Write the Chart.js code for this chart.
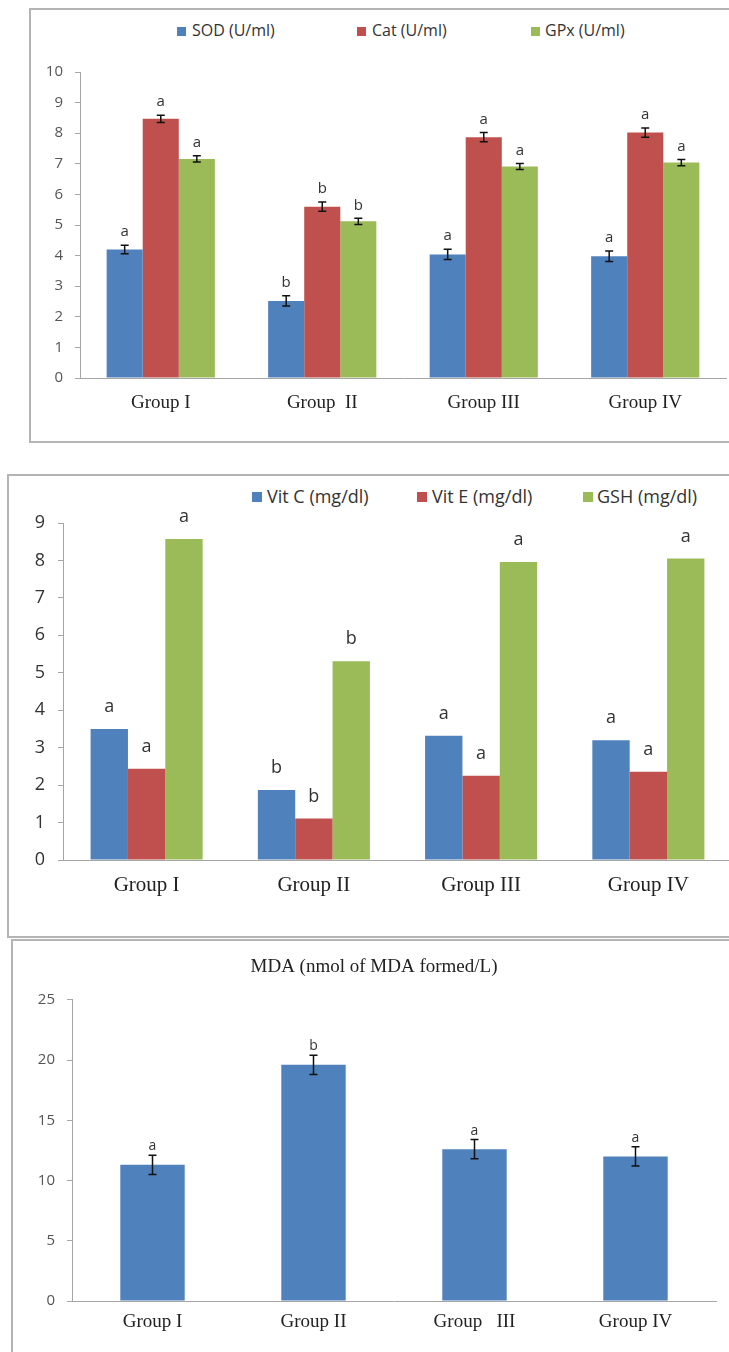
<!DOCTYPE html>
<html>
<head>
<meta charset="utf-8">
<script src="https://cdn.jsdelivr.net/npm/chart.js@4/dist/chart.umd.min.js"></script>
<style>
  html, body { margin: 0; padding: 0; width: 729px; height: 1352px; overflow: hidden; background: #fff; }
  .frame { position: absolute; box-sizing: border-box; border: 2px solid #B4B4B4; }
  canvas { position: absolute; }
  .legend { position: absolute; font-family: "Open Sans", sans-serif; color: #333; white-space: nowrap; }
  .legend span.box { position: absolute; }
  .legend span.txt { position: absolute; }
</style>
</head>
<body>
<div class="frame" style="left:29px; top:8px; width:740px; height:435px;"></div>
<div class="frame" style="left:7px; top:474px; width:760px; height:464px;"></div>
<div class="frame" style="left:11px; top:939px; width:760px; height:440px;"></div>

<div id="legend1"></div>
<div id="legend2"></div>

<canvas id="c1" width="700" height="435" style="left:29px; top:8px; width:700px; height:435px;"></canvas>
<canvas id="c2" width="728" height="461" style="left:7px; top:474px; width:728px; height:461px;"></canvas>
<canvas id="c3" width="720" height="413" style="left:9px; top:939px; width:720px; height:413px;"></canvas>

<script>
// ---------- Data ----------
const groupsA = ['Group I', 'Group  II', 'Group III', 'Group IV'];
const groupsB = ['Group I', 'Group II', 'Group III', 'Group IV'];
const groupsC = ['Group I', 'Group II', 'Group   III', 'Group IV'];

// Panel 1: enzymes (U/ml)
const sodValues = [4.20, 2.52, 4.04, 3.98];
const sodErrors = [0.14, 0.17, 0.17, 0.17];
const sodSig = ['a', 'b', 'a', 'a'];
const catValues = [8.47, 5.60, 7.87, 8.02];
const catErrors = [0.12, 0.15, 0.15, 0.15];
const catSig = ['a', 'b', 'a', 'a'];
const gpxValues = [7.16, 5.12, 6.91, 7.04];
const gpxErrors = [0.10, 0.10, 0.10, 0.10];
const gpxSig = ['a', 'b', 'a', 'a'];

// Panel 2: non-enzymatic antioxidants (mg/dl)
const vitCValues = [3.50, 1.87, 3.32, 3.20];
const vitCSig = ['a', 'b', 'a', 'a'];
const vitEValues = [2.44, 1.11, 2.25, 2.36];
const vitESig = ['a', 'b', 'a', 'a'];
const gshValues = [8.57, 5.31, 7.96, 8.05];
const gshSig = ['a', 'b', 'a', 'a'];

// Panel 3: MDA
const mdaValues = [11.3, 19.6, 12.6, 12.0];
const mdaErrors = [0.8, 0.8, 0.8, 0.8];
const mdaSig = ['a', 'b', 'a', 'a'];

const BLUE = '#4F81BD', RED = '#C0504D', GREEN = '#9BBB59';

// ---------- HTML legends ----------
function makeLegend(id, items, top, fontSize, boxSize) {
  const el = document.getElementById(id);
  items.forEach(it => {
    const b = document.createElement('span');
    b.className = 'legend';
    b.style.left = it.boxX + 'px';
    b.style.top = (top - boxSize / 2) + 'px';
    b.style.width = boxSize + 'px';
    b.style.height = boxSize + 'px';
    b.style.background = it.color;
    el.appendChild(b);
    const t = document.createElement('span');
    t.className = 'legend';
    t.textContent = it.text;
    t.style.left = it.textX + 'px';
    t.style.fontSize = fontSize + 'px';
    t.style.lineHeight = fontSize + 'px';
    t.style.top = (top - fontSize / 2 - 1) + 'px';
    el.appendChild(t);
  });
}
makeLegend('legend1', [
  {text: 'SOD (U/ml)', color: BLUE, boxX: 177, textX: 192},
  {text: 'Cat (U/ml)', color: RED, boxX: 357, textX: 372},
  {text: 'GPx (U/ml)', color: GREEN, boxX: 531, textX: 545}
], 31, 16, 9);
makeLegend('legend2', [
  {text: 'Vit C (mg/dl)', color: BLUE, boxX: 252, textX: 267},
  {text: 'Vit E (mg/dl)', color: RED, boxX: 417, textX: 432},
  {text: 'GSH (mg/dl)', color: GREEN, boxX: 583, textX: 597}
], 497, 18, 10);

// ---------- Error bar + significance letter plugin ----------
const annotPlugin = {
  id: 'annot',
  afterDatasetsDraw(chart, args, opts) {
    const ctx = chart.ctx;
    const y = chart.scales.y;
    ctx.save();
    chart.data.datasets.forEach((ds, i) => {
      const meta = chart.getDatasetMeta(i);
      meta.data.forEach((bar, j) => {
        const v = ds.data[j];
        const e = ds.errors ? ds.errors[j] : 0;
        const yTop = y.getPixelForValue(v + e);
        if (e) {
          const yBot = y.getPixelForValue(v - e);
          ctx.strokeStyle = '#111';
          ctx.lineWidth = opts.errWidth || 1.5;
          ctx.beginPath();
          ctx.moveTo(bar.x, yTop); ctx.lineTo(bar.x, yBot);
          ctx.moveTo(bar.x - opts.cap, yTop); ctx.lineTo(bar.x + opts.cap, yTop);
          ctx.moveTo(bar.x - opts.cap, yBot); ctx.lineTo(bar.x + opts.cap, yBot);
          ctx.stroke();
        }
        if (ds.sig) {
          ctx.fillStyle = '#333';
          ctx.font = opts.font;
          ctx.textAlign = 'center';
          ctx.textBaseline = 'middle';
          ctx.fillText(ds.sig[j], bar.x, yTop - opts.gap);
        }
      });
    });
    ctx.restore();
  }
};

function yAxis(max, step, width, fontSize, pad, color) {
  return {
    min: 0, max: max,
    ticks: { stepSize: step, color: color, padding: pad, font: { family: 'Open Sans', size: fontSize } },
    grid: { display: true, drawOnChartArea: false, drawTicks: true, tickLength: 5, color: '#A6A6A6' },
    border: { display: true, color: '#A6A6A6', width: 1 },
    afterFit(s) { s.width = width; }
  };
}
function xAxis(height, fontSize, pad) {
  return {
    ticks: { color: '#222', padding: pad, font: { family: 'Liberation Serif', size: fontSize } },
    grid: { display: true, drawOnChartArea: false, drawTicks: false, color: '#A6A6A6' },
    border: { display: true, color: '#A6A6A6', width: 1 },
    afterFit(s) { s.height = height; }
  };
}

// ---------- Panel 1 ----------
new Chart(document.getElementById('c1'), {
  type: 'bar',
  data: {
    labels: groupsA,
    datasets: [
      { label: 'SOD (U/ml)', data: sodValues, errors: sodErrors, sig: sodSig, backgroundColor: BLUE },
      { label: 'Cat (U/ml)', data: catValues, errors: catErrors, sig: catSig, backgroundColor: RED },
      { label: 'GPx (U/ml)', data: gpxValues, errors: gpxErrors, sig: gpxSig, backgroundColor: GREEN }
    ]
  },
  options: {
    responsive: false, animation: false, devicePixelRatio: 1,
    layout: { padding: { top: 64, right: 3, left: 0, bottom: 0 } },
    datasets: { bar: { categoryPercentage: 0.67, barPercentage: 1.0 } },
    plugins: {
      legend: { display: false }, tooltip: { enabled: false },
      annot: { cap: 4, gap: 13, font: '15px "Open Sans"' }
    },
    scales: {
      x: xAxis(65, 19, 14),
      y: yAxis(10, 1, 51, 15, 12, '#555')
    }
  },
  plugins: [annotPlugin]
});

// ---------- Panel 2 ----------
new Chart(document.getElementById('c2'), {
  type: 'bar',
  data: {
    labels: groupsB,
    datasets: [
      { label: 'Vit C (mg/dl)', data: vitCValues, sig: vitCSig, backgroundColor: BLUE },
      { label: 'Vit E (mg/dl)', data: vitEValues, sig: vitESig, backgroundColor: RED },
      { label: 'GSH (mg/dl)', data: gshValues, sig: gshSig, backgroundColor: GREEN }
    ]
  },
  options: {
    responsive: false, animation: false, devicePixelRatio: 1,
    layout: { padding: { top: 49, right: 3, left: 0, bottom: 0 } },
    datasets: { bar: { categoryPercentage: 0.67, barPercentage: 1.0 } },
    plugins: {
      legend: { display: false }, tooltip: { enabled: false },
      annot: { cap: 4, gap: 22, font: '18px "Open Sans"' }
    },
    scales: {
      x: xAxis(75, 21, 13),
      y: yAxis(9, 1, 56, 18, 13, '#333')
    }
  },
  plugins: [annotPlugin]
});

// ---------- Panel 3 ----------
new Chart(document.getElementById('c3'), {
  type: 'bar',
  data: {
    labels: groupsC,
    datasets: [
      { label: 'MDA (nmol of MDA formed/L)', data: mdaValues, errors: mdaErrors, sig: mdaSig, backgroundColor: BLUE }
    ]
  },
  options: {
    responsive: false, animation: false, devicePixelRatio: 1,
    layout: { padding: { top: 0, right: 13, left: 23, bottom: 0 } },
    datasets: { bar: { categoryPercentage: 0.4, barPercentage: 1.0 } },
    plugins: {
      legend: { display: false }, tooltip: { enabled: false },
      title: { display: true, text: 'MDA (nmol of MDA formed/L)', color: '#222',
               font: { family: 'Liberation Serif', size: 19, weight: 'normal' },
               padding: { top: 17, bottom: 21 } },
      annot: { cap: 4, gap: 9, font: '14px "Open Sans"' }
    },
    scales: {
      x: xAxis(51, 19, 10),
      y: yAxis(25, 5, 40, 15, 12, '#555')
    }
  },
  plugins: [annotPlugin]
});
</script>
</body>
</html>
